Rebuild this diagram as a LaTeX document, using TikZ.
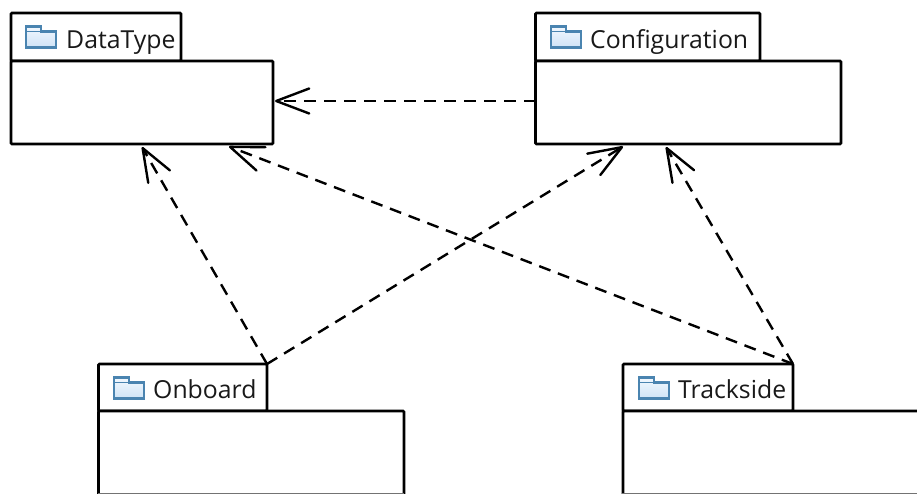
\documentclass[tikz,border=0pt]{standalone}
\usepackage{fontspec}
\setmainfont{Open Sans}
\usetikzlibrary{arrows.meta}
\definecolor{folderline}{HTML}{4A84B0}
\definecolor{foldertop}{HTML}{F2F8FE}
\definecolor{folderbot}{HTML}{CFE3F6}
\tikzset{
  x=1pt,y=-1pt,
  pkg/.style={draw=black,line width=2.6pt,rounded corners=1pt,fill=white},
  lbl/.style={anchor=base west,inner sep=0pt,font=\fontsize{24.8}{28}\selectfont,text=black!90},
  dep/.style={draw=black,line width=2.4pt,dash pattern=on 12pt off 8pt,
    -{Straight Barb[length=33pt,width=25pt,line width=2.4pt,round]}},
  folderbody/.style={draw=folderline,line width=2.4pt,top color=foldertop,bottom color=folderbot},
  pics/folder/.style={code={
    \path[folderbody] (0,0) -- (15,0) -- (15,5) -- (30,5) -- (30,21) -- (0,21) -- cycle;
    \draw[folderline,line width=1.4pt] (0,5) -- (15,5);
  }}
}
\begin{document}
\begin{tikzpicture}
\useasboundingbox (0,0) rectangle (917,494);
\clip (0,0) rectangle (917,494);
\fill[white] (0,0) rectangle (917,494);

% DataType
\draw[pkg] (11,61) rectangle (181,13);
\draw[pkg] (11,61) rectangle (273,144);
\coordinate (dtE) at (275,101);
\coordinate (dtS1) at (142,147);
\coordinate (dtS2) at (229,146.5);
\pic at (26,26.5) {folder};
\node[lbl] (dtlabel) at (66,49) {DataType};

% Configuration
\draw[pkg] (535.5,61) rectangle (760,13);
\draw[pkg] (535.5,61) rectangle (841,144);
\coordinate (cfW) at (535.5,101);
\coordinate (cfS1) at (623,146.5);
\coordinate (cfS2) at (666,147);
\pic at (551,26.5) {folder};
\node[lbl] (cflabel) at (590,49) {Configuration};

% Onboard
\draw[pkg] (98.5,411) rectangle (267,364);
\draw[pkg] (98.5,411) rectangle (404,497);
\draw[black!55,line width=1pt] (98,493.5) -- (404,493.5);
\coordinate (onNE) at (267,364);
\pic at (114,377.5) {folder};
\node[lbl] (onlabel) at (153,398) {Onboard};

% Trackside
\draw[pkg] (623,411) rectangle (793,364);
\draw[pkg] (623,411) rectangle (930,497);
\draw[black!55,line width=1pt] (622,493.5) -- (917,493.5);
\coordinate (trNE) at (793,364);
\pic at (639,377.5) {folder};
\node[lbl] (trlabel) at (678,398) {Trackside};

% Dependencies
\draw[dep] (cfW) -- (dtE);
\draw[dep] (onNE) -- (dtS1);
\draw[dep] (onNE) -- (cfS1);
\draw[dep] (trNE) -- (cfS2);
\draw[dep] (trNE) -- (dtS2);
\end{tikzpicture}
\end{document}
